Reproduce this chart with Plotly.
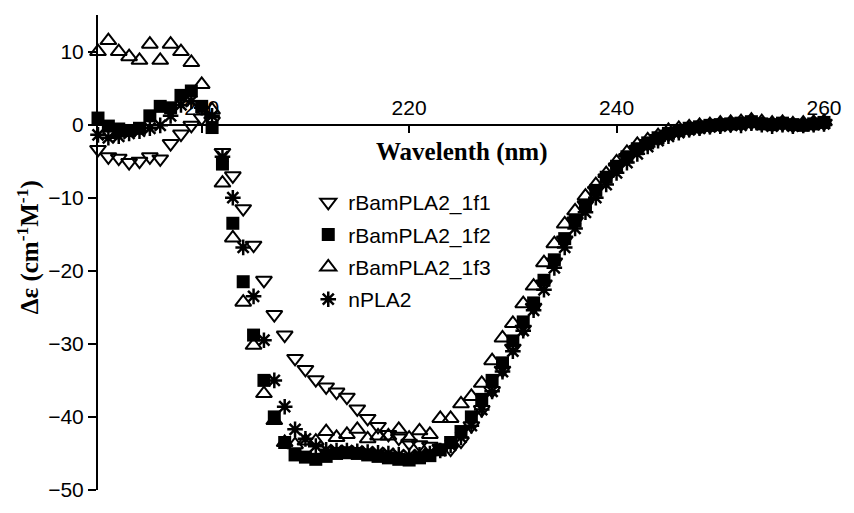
import plotly.graph_objects as go

wavelength = list(range(190, 261))

rBamPLA2_1f1 = [
    -3.4, -4.4, -4.6, -5.2, -5.0, -4.4, -4.7, -2.6, -1.3, -0.1,
    0.9, 0.5, -3.8, -7.0, -11.5, -16.5, -21.3, -26.0, -28.8, -32.0,
    -33.5, -34.9, -35.9, -36.6, -37.3, -38.9, -40.2, -41.3, -42.4, -42.9,
    -43.6, -43.8, -44.0, -44.3, -44.4, -43.3, -41.2, -39.0, -36.4, -33.6,
    -30.6, -28.0, -25.0, -21.8, -18.8, -15.8, -13.2, -11.0, -9.0, -7.3,
    -5.8, -4.5, -3.4, -2.6, -1.9, -1.3, -0.9, -0.6, -0.4, -0.2,
    -0.1, 0.0, 0.1, 0.3, 0.2, 0.0, 0.1, -0.1, 0.0, 0.1, 0.2,
]

rBamPLA2_1f2 = [
    0.9, -0.2, -0.6, -0.8, -0.5, 1.2, 2.5, 2.3, 4.0, 4.6,
    2.5, -0.4, -5.4, -13.5, -21.5, -28.8, -35.0, -40.0, -43.5, -45.2,
    -45.5, -45.8, -45.4, -45.0, -44.9, -45.0, -45.2, -45.4, -45.6, -45.8,
    -45.9, -45.6, -45.3, -44.5, -43.5, -42.0, -40.0, -37.6, -35.0, -32.6,
    -29.6, -27.0, -24.4, -21.3, -18.5, -15.6, -13.2, -11.0, -9.0, -7.2,
    -5.7, -4.4, -3.3, -2.5, -1.8, -1.2, -0.8, -0.5, -0.3, -0.1,
    0.0, 0.1, 0.2, 0.4, 0.1, 0.0, 0.2, 0.0, -0.1, 0.1, 0.3,
]

rBamPLA2_1f3 = [
    10.0, 11.5, 10.0, 9.3, 8.8, 11.0, 8.8, 11.0, 10.0, 8.5,
    5.5, 2.0, -8.0, -15.5, -24.3, -30.2, -36.8, -40.5, -43.5, -43.8,
    -43.3, -43.3, -42.0, -42.8, -42.4, -41.7, -43.0, -42.6, -42.6, -41.7,
    -42.9, -41.9, -42.4, -40.2, -40.2, -38.2, -37.2, -35.4, -32.3, -29.2,
    -27.2, -24.5, -22.1, -18.9, -16.3, -13.6, -11.8, -9.8, -8.2, -6.7,
    -5.1, -3.8, -2.7, -2.1, -1.5, -0.8, -0.5, -0.3, -0.1, 0.0,
    0.2, 0.3, 0.4, 0.6, 0.4, 0.2, 0.3, 0.1, 0.2, 0.3, 0.4,
]

nPLA2 = [
    -1.4, -1.8, -1.6, -1.2, -0.9, -0.5, -0.1, 1.2, 2.7, 3.2,
    2.3, 1.2, -4.4, -10.0, -16.8, -23.5, -29.5, -35.0, -38.6, -41.7,
    -43.0, -44.0, -44.5, -44.6, -44.6, -44.7, -44.8, -44.9, -45.0, -45.2,
    -45.3, -45.2, -45.0, -44.6, -43.9, -42.8, -41.2, -39.0, -36.5, -33.8,
    -31.0, -28.2, -25.4, -22.6, -19.6, -16.8, -14.2, -12.0, -10.0, -8.2,
    -6.6, -5.2, -4.0, -3.0, -2.2, -1.6, -1.1, -0.7, -0.5, -0.3,
    -0.2, 0.0, -0.1, 0.2, 0.0, -0.2, 0.0, -0.2, -0.1, 0.0, 0.1,
]

x_ticks = [200, 220, 240, 260]
y_ticks = [10, 0, -10, -20, -30, -40, -50]

series = [
    ("rBamPLA2_1f1", rBamPLA2_1f1, "triangle-down-open", 14, 2),
    ("rBamPLA2_1f2", rBamPLA2_1f2, "square", 13, 0),
    ("rBamPLA2_1f3", rBamPLA2_1f3, "triangle-up-open", 14, 2),
    ("nPLA2", nPLA2, "asterisk-open", 13, 2.5),
]

fig = go.Figure()
for name, vals, sym, size, lw in series:
    fig.add_trace(go.Scatter(
        x=wavelength, y=vals, mode="markers", name=name, legendgroup=name,
        cliponaxis=False,
        marker=dict(symbol=sym, size=size, color="black",
                    line=dict(color="black", width=lw)),
    ))

tick_font = dict(family="Liberation Sans, Arial, sans-serif", size=21, color="black")

fig.update_layout(
    width=854, height=513,
    margin=dict(l=98, r=24, t=15, b=12),
    paper_bgcolor="white", plot_bgcolor="white",
    showlegend=True,
    legend=dict(x=(310 - 98) / 732, y=(501 - 186) / 486, xanchor="left", yanchor="top",
                font=dict(family="Liberation Sans, Arial, sans-serif", size=21, color="black"),
                bgcolor="rgba(0,0,0,0)", itemsizing="trace",
                traceorder="grouped", tracegroupgap=2),
    xaxis=dict(range=[190, 260], tickvals=x_ticks, side="top", anchor="free",
               position=50 / 65, ticks="inside", ticklen=7, tickwidth=2,
               tickcolor="black", showline=True, linecolor="black", linewidth=2,
               showgrid=False, zeroline=False, tickfont=tick_font,
               layer="below traces"),
    yaxis=dict(range=[-50, 15], tickvals=y_ticks, ticks="outside", ticklen=8,
               tickwidth=2, tickcolor="black", showline=True, linecolor="black",
               linewidth=2, showgrid=False, zeroline=False, tickfont=tick_font),
    annotations=[
        dict(text="<b>Wavelenth (nm)</b>", x=(465 - 98) / 732, y=(501 - 155) / 486,
             xref="paper", yref="paper", showarrow=False, xanchor="center", yanchor="middle",
             font=dict(family="Liberation Serif, Times New Roman, serif", size=25, color="black")),
        dict(text="<b>Δε (cm<sup>-1</sup>M<sup>-1</sup>)</b>", x=(28 - 98) / 732,
             y=(501 - 253) / 486, xref="paper", yref="paper", showarrow=False,
             textangle=-90, xanchor="center", yanchor="middle",
             font=dict(family="Liberation Serif, Times New Roman, serif", size=25, color="black")),
    ],
)

fig.write_html("out.html")
